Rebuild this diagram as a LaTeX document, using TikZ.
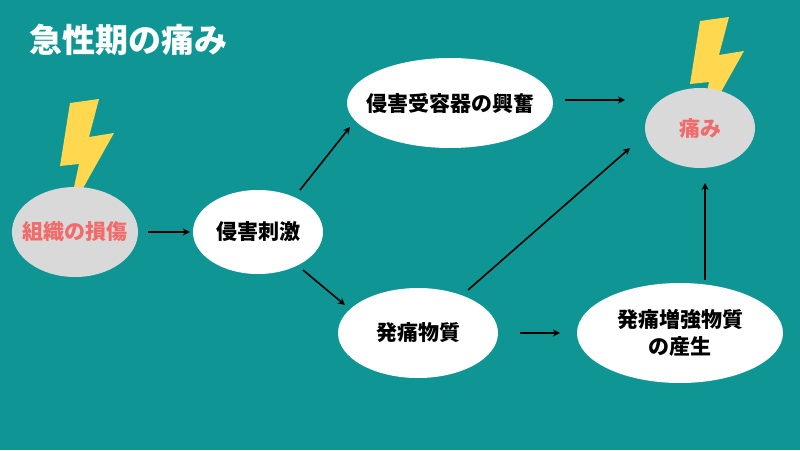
\documentclass[tikz,border=0pt]{standalone}
\usepackage{fontspec}
\newfontfamily\cjk{Noto Sans CJK JP}
\usetikzlibrary{shapes.geometric,arrows.meta}
\definecolor{bg}{HTML}{0E9594}
\definecolor{bolt}{HTML}{FFD84F}
\definecolor{painred}{HTML}{F26B6B}
\definecolor{lgray}{HTML}{D9D9D9}
\tikzset{
 wnode/.style={ellipse,fill=white,inner xsep=-12pt,inner ysep=0pt,font=\cjk\bfseries\fontsize{21}{27}\selectfont,align=center},
 gnode/.style={ellipse,fill=lgray,inner xsep=-12pt,inner ysep=0pt,text=painred,font=\cjk\bfseries\fontsize{21}{25}\selectfont},
 arr/.style={-{Stealth[length=7pt,width=7pt]},line width=1.6pt,black},
 boltshape/.style={fill=bolt}
}
\begin{document}
\begin{tikzpicture}[x=1pt,y=-1pt]
\fill[bg] (0,0) rectangle (800,450);
\useasboundingbox (0,0) rectangle (800,450);
\node[anchor=west,text=white,font=\cjk\bfseries\fontsize{33}{38}\selectfont] (title) at (26,40) {急性期の痛み};
\fill[boltshape] (70,103)--(99,99)--(89,137)--(114,133)--(68,215)--(79,164)--(60,166)--cycle;
\fill[boltshape] (700,21)--(729,17)--(719,55)--(744,51)--(698,133)--(709,82)--(690,84)--cycle;
\node[gnode,minimum width=126pt,minimum height=90pt] (a) at (75,232) {組織の損傷};
\node[gnode,minimum width=110pt,minimum height=80pt] (p) at (700,128) {痛み};
\node[wnode,minimum width=130pt,minimum height=84pt] (b) at (258,232) {侵害刺激};
\node[wnode,minimum width=206pt,minimum height=90pt] (c) at (450,103) {侵害受容器の興奮};
\node[wnode,minimum width=160pt,minimum height=90pt] (d) at (418,333) {発痛物質};
\node[wnode,minimum width=206pt,minimum height=100pt] (e) at (680,333) {発痛増強物質\\の産生};
\coordinate (pin1) at (625,100);
\coordinate (pin2) at (630,148);
\coordinate (pin3) at (705,183);
\draw[arr] ([xshift=10pt]a.east) -- ([xshift=-3pt]b.west);
\draw[arr] (300,190) -- (350,127);
\draw[arr] (303,270) -- (345,305);
\draw[arr] (565,100) -- (pin1);
\draw[arr] (468,290) -- (pin2);
\draw[arr] (520,333) -- (560,333);
\draw[arr] (705,280) -- (pin3);
\end{tikzpicture}
\end{document}
